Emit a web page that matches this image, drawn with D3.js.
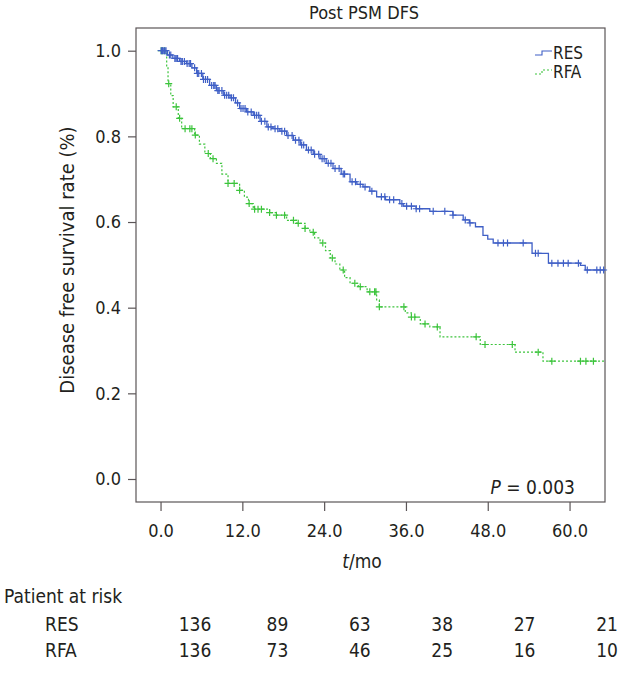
<!DOCTYPE html>
<html>
<head>
<meta charset="utf-8">
<script src="https://cdn.jsdelivr.net/npm/d3@7/dist/d3.min.js"></script>
<style>
  html, body { margin: 0; padding: 0; background: #fff; }
  svg { display: block; }
  text { font-family: "DejaVu Sans Condensed", "DejaVu Sans", sans-serif; font-stretch: condensed; fill: #231f20; }
</style>
</head>
<body>
<div id="chart"></div>
<script>
// ---------------- data ----------------
const title = "Post PSM DFS";
const seriesNames = ["RES", "RFA"];
const xTicks = [0, 12, 24, 36, 48, 60];
const yTicks = [0, 0.2, 0.4, 0.6, 0.8, 1.0];
const tMax = 65.2;

// Kaplan-Meier step points (time in months, survival after the step)
const resTimes = [0, 1.0, 1.8, 2.8, 3.8, 4.6, 5.3, 6.2, 7.2, 8.2, 9.2, 10.2, 11.0, 11.6, 12.6, 13.6, 14.6, 15.6, 16.5, 17.5, 18.5, 19.5, 20.5, 21.4, 22.4, 23.4, 24.3, 25.3, 26.5, 27.8, 28.8, 29.7, 30.7, 31.7, 33.0, 35.1, 35.6, 37.5, 39.5, 42.9, 44.4, 45.3, 46.2, 47.3, 48.0, 48.8, 54.5, 56.9, 61.6, 62.3];
const resSurv  = [1.0, 0.99, 0.982, 0.975, 0.970, 0.960, 0.947, 0.933, 0.919, 0.907, 0.896, 0.890, 0.878, 0.865, 0.857, 0.849, 0.835, 0.822, 0.818, 0.812, 0.802, 0.791, 0.780, 0.768, 0.758, 0.748, 0.737, 0.725, 0.712, 0.694, 0.688, 0.682, 0.672, 0.659, 0.652, 0.643, 0.637, 0.631, 0.625, 0.616, 0.605, 0.598, 0.589, 0.569, 0.560, 0.551, 0.527, 0.504, 0.499, 0.488];
const resCensor = [0.1, 0.2, 0.3, 0.5, 0.6, 0.8, 1.3, 1.5, 2.1, 2.3, 2.5, 3.0, 3.2, 3.5, 3.9, 4.2, 4.4, 5.0, 5.4, 5.6, 6.0, 6.3, 6.6, 6.9, 7.5, 7.8, 8.0, 8.4, 8.6, 9.0, 9.4, 9.7, 10.0, 10.4, 10.7, 11.3, 11.8, 12.1, 12.4, 12.8, 13.3, 13.8, 14.1, 14.4, 14.8, 15.3, 15.8, 16.2, 16.8, 17.2, 17.8, 18.2, 18.7, 19.3, 19.8, 20.3, 20.7, 21.0, 21.7, 22.1, 22.6, 23.2, 23.7, 24.0, 24.6, 25.0, 25.6, 26.2, 26.8, 27.0, 28.1, 28.6, 29.3, 30.0, 31.0, 32.4, 32.9, 33.6, 34.2, 35.4, 36.1, 36.8, 37.5, 38.0, 40.0, 41.7, 42.9, 44.7, 45.4, 49.5, 50.3, 50.9, 53.2, 55.0, 55.4, 57.4, 58.3, 59.1, 59.8, 61.3, 62.6, 64.0, 64.5, 65.0];

const rfaTimes = [0, 0.9, 1.1, 1.5, 1.85, 2.6, 3.1, 5.0, 5.7, 6.5, 7.3, 8.2, 9.0, 9.9, 11.6, 12.3, 12.9, 13.6, 16.0, 17.0, 18.5, 20.0, 21.2, 21.9, 22.6, 23.4, 24.2, 24.9, 25.6, 26.3, 27.0, 27.8, 29.0, 30.3, 31.7, 32.1, 35.9, 36.8, 38.1, 39.5, 41.0, 46.9, 52.0, 56.1];
const rfaSurv  = [1.0, 0.96, 0.923, 0.895, 0.869, 0.842, 0.818, 0.803, 0.782, 0.760, 0.748, 0.737, 0.712, 0.690, 0.674, 0.658, 0.643, 0.630, 0.622, 0.616, 0.604, 0.597, 0.585, 0.576, 0.563, 0.551, 0.533, 0.516, 0.502, 0.488, 0.470, 0.457, 0.449, 0.437, 0.418, 0.402, 0.388, 0.378, 0.362, 0.355, 0.332, 0.314, 0.296, 0.275];
const rfaCensor = [0.1, 0.3, 0.6, 1.2, 2.3, 2.8, 3.6, 4.3, 4.6, 5.1, 7.0, 7.7, 9.9, 10.8, 11.6, 13.0, 13.8, 14.3, 14.8, 16.0, 17.0, 18.2, 19.5, 20.2, 21.2, 22.4, 23.8, 25.2, 26.8, 28.5, 29.3, 30.7, 31.4, 31.6, 32.1, 35.7, 36.8, 37.3, 38.8, 40.6, 46.3, 47.6, 51.6, 55.4, 57.4, 61.6, 62.4, 63.5];

// Patients at risk
const riskTimes = [0, 12, 24, 36, 48, 60];
const resAtRisk = [136, 89, 63, 38, 27, 21];
const rfaAtRisk = [136, 73, 46, 25, 16, 10];

const pText = "0.003";

// ---------------- layout ----------------
const W = 642, H = 682;
const box = { left: 136, top: 28, right: 605, bottom: 502 };
const colors = { RES: "#3f5fc6", RFA: "#3cc43c" };

const svg = d3.select("#chart").append("svg").attr("width", W).attr("height", H);

const x = d3.scaleLinear().domain([-3.6, tMax]).range([box.left, box.right]);
const y = d3.scaleLinear().domain([-0.0537, 1.053]).range([box.bottom, box.top]);

// plot frame
svg.append("rect")
  .attr("x", box.left).attr("y", box.top)
  .attr("width", box.right - box.left).attr("height", box.bottom - box.top)
  .attr("fill", "none").attr("stroke", "#5b5557").attr("stroke-width", 1.2);

// title
svg.append("text").attr("x", 364).attr("y", 19)
  .attr("text-anchor", "middle").style("font-size", "18px").text(title);

// x axis
const xAxis = svg.append("g").attr("transform", `translate(0,${box.bottom})`)
  .call(d3.axisBottom(x).tickValues(xTicks).tickFormat(d3.format(".1f")).tickSize(9).tickPadding(13));
xAxis.select(".domain").remove();
xAxis.selectAll("line").attr("stroke", "#5b5557").attr("stroke-width", 1.2);
xAxis.selectAll("text").style("font-size", "18px").attr("fill", "#231f20")
  .style("font-family", "'DejaVu Sans Condensed', 'DejaVu Sans', sans-serif");

// y axis
const yAxis = svg.append("g").attr("transform", `translate(${box.left},0)`)
  .call(d3.axisLeft(y).tickValues(yTicks).tickFormat(d3.format(".1f")).tickSize(8).tickPadding(7));
yAxis.select(".domain").remove();
yAxis.selectAll("line").attr("stroke", "#5b5557").attr("stroke-width", 1.2);
yAxis.selectAll("text").style("font-size", "18px").attr("fill", "#231f20")
  .style("font-family", "'DejaVu Sans Condensed', 'DejaVu Sans', sans-serif");

// axis titles
svg.append("text").attr("transform", `translate(74,${(box.top + box.bottom) / 2 - 5}) rotate(-90)`)
  .attr("text-anchor", "middle").style("font-size", "20px").text("Disease free survival rate (%)");

const xl = svg.append("text").attr("x", 362).attr("y", 568).attr("text-anchor", "middle").style("font-size", "19px");
xl.append("tspan").style("font-style", "italic").text("t");
xl.append("tspan").text("/mo");

// P value
const pt = svg.append("text").attr("x", 575).attr("y", 494).attr("text-anchor", "end").style("font-size", "19px");
pt.append("tspan").style("font-style", "italic").text("P");
pt.append("tspan").text(" = " + pText);

// curves
function stepData(times, surv) {
  const pts = times.map((t, i) => [t, surv[i]]);
  pts.push([tMax, surv[surv.length - 1]]);
  return pts;
}
function survAt(times, surv, t) {
  let s = surv[0];
  for (let i = 0; i < times.length; i++) { if (times[i] <= t) s = surv[i]; }
  return s;
}
const line = d3.line().x(d => x(d[0])).y(d => y(d[1])).curve(d3.curveStepAfter);

const series = [
  { name: "RES", times: resTimes, surv: resSurv, censor: resCensor, dash: null, width: 1.3 },
  { name: "RFA", times: rfaTimes, surv: rfaSurv, censor: rfaCensor, dash: "2,2", width: 1.2 }
];

const plotG = svg.append("g");
series.slice().reverse().forEach(s => {
  plotG.append("path").datum(stepData(s.times, s.surv))
    .attr("d", line).attr("fill", "none")
    .attr("stroke", colors[s.name]).attr("stroke-width", s.width)
    .attr("stroke-dasharray", s.dash);
  const cs = 3.5;
  plotG.append("path")
    .attr("d", s.censor.map(t => {
      const cx = x(t), cy = y(survAt(s.times, s.surv, t));
      return `M${cx - cs},${cy}H${cx + cs}M${cx},${cy - cs}V${cy + cs}`;
    }).join(""))
    .attr("fill", "none").attr("stroke", colors[s.name]).attr("stroke-width", 1.2);
});

// legend
const legend = svg.append("g");
seriesNames.forEach((name, i) => {
  const ly = 53 + i * 19;
  const s = series.find(d => d.name === name);
  legend.append("path")
    .attr("d", `M535,${ly + 2}H542V${ly - 2}H552`)
    .attr("fill", "none").attr("stroke", colors[name]).attr("stroke-width", 1.1)
    .attr("stroke-dasharray", s.dash);
  legend.append("text").attr("x", 553).attr("y", ly + 6).style("font-size", "17px").text(name);
});

// risk table
const tx = d3.scaleLinear().domain([0, 60]).range([195, 607]);
svg.append("text").attr("x", 4).attr("y", 603).style("font-size", "19px").text("Patient at risk");
const rows = [{ name: "RES", vals: resAtRisk, yy: 631 }, { name: "RFA", vals: rfaAtRisk, yy: 657 }];
rows.forEach(r => {
  svg.append("text").attr("x", 45).attr("y", r.yy).style("font-size", "19px").text(r.name);
  svg.append("g").selectAll("text").data(r.vals).join("text")
    .attr("x", (d, i) => tx(riskTimes[i])).attr("y", r.yy)
    .attr("text-anchor", "middle").style("font-size", "19px").text(d => d);
});
</script>
</body>
</html>
